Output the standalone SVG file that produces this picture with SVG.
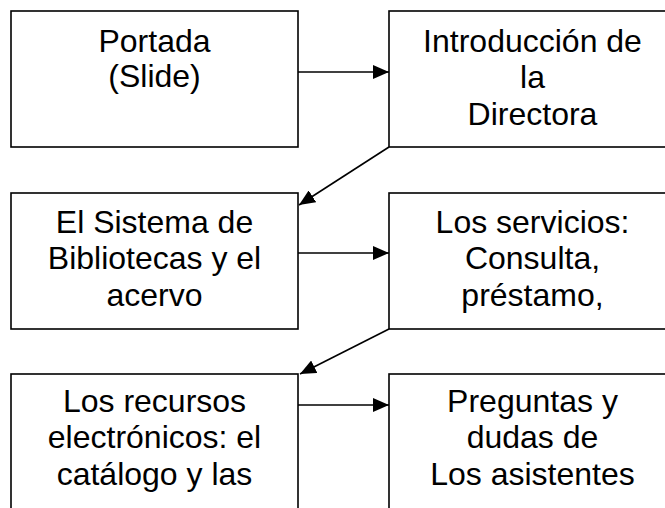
<svg xmlns="http://www.w3.org/2000/svg" width="665" height="508" viewBox="0 0 665 508">
<style>
.box{fill:#fff;stroke:#000;stroke-width:1.6}
.t{font-family:"Liberation Sans",Arial,sans-serif;font-size:32px;fill:#000;text-anchor:middle}
.c{stroke:#000;stroke-width:1.6;fill:none;marker-end:url(#ah)}
</style>
<defs>
<marker id="ah" markerUnits="userSpaceOnUse" markerWidth="16" markerHeight="14" refX="16" refY="7" orient="auto">
<path d="M0,0 L16,7 L0,14 z" fill="#000"/>
</marker>
</defs>
<rect width="665" height="508" fill="#fff"/>
<g id="n1"><rect class="box" x="11" y="11" width="287" height="136"/>
<text class="t" x="154.5" y="52">Portada</text><text class="t" x="154.5" y="87">(Slide)</text></g>
<g id="n2"><rect class="box" x="389" y="11" width="287" height="136"/>
<text class="t" x="532.5" y="52">Introducción de</text><text class="t" x="532.5" y="88">la</text><text class="t" x="532.5" y="125">Directora</text></g>
<g id="n3"><rect class="box" x="11" y="193" width="287" height="136"/>
<text class="t" x="154.5" y="233">El Sistema de</text><text class="t" x="154.5" y="269">Bibliotecas y el</text><text class="t" x="154.5" y="306">acervo</text></g>
<g id="n4"><rect class="box" x="389" y="193" width="287" height="136"/>
<text class="t" x="532.5" y="233">Los servicios:</text><text class="t" x="532.5" y="269">Consulta,</text><text class="t" x="532.5" y="306">préstamo,</text></g>
<g id="n5"><rect class="box" x="11" y="374" width="287" height="150"/>
<text class="t" x="154.5" y="412">Los recursos</text><text class="t" x="154.5" y="448">electrónicos: el</text><text class="t" x="154.5" y="485">catálogo y las</text></g>
<g id="n6"><rect class="box" x="389" y="374" width="287" height="150"/>
<text class="t" x="532.5" y="412">Preguntas y</text><text class="t" x="532.5" y="448">dudas de</text><text class="t" x="532.5" y="485">Los asistentes</text></g>
<g id="connectors">
<line class="c" x1="298" y1="72" x2="389" y2="72"/>
<line class="c" x1="389" y1="147" x2="299" y2="205"/>
<line class="c" x1="298" y1="253" x2="389" y2="253"/>
<line class="c" x1="389" y1="329" x2="300" y2="374"/>
<line class="c" x1="298" y1="405" x2="389" y2="405"/>
</g>
</svg>
